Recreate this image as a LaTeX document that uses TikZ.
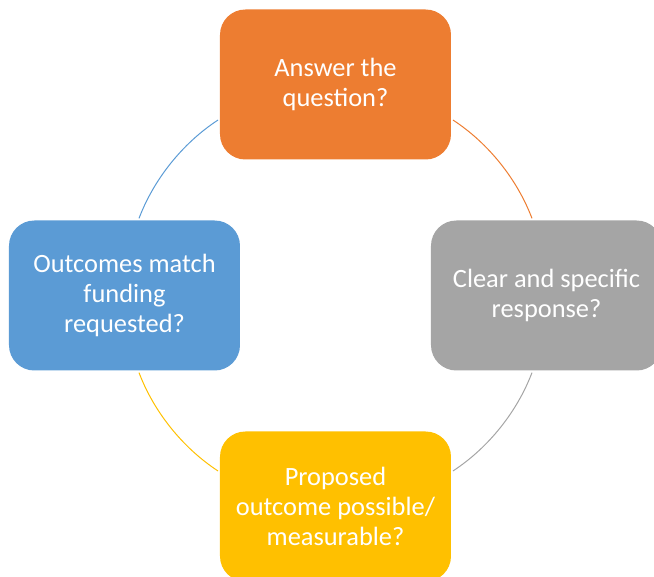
\documentclass[tikz,border=0pt]{standalone}
\usepackage{fontspec}
\setmainfont{Carlito}
\usepackage{tikz}
\usetikzlibrary{positioning}
\definecolor{offOrange}{HTML}{ED7D31}
\definecolor{offGray}{HTML}{A5A5A5}
\definecolor{offYellow}{HTML}{FFC000}
\definecolor{offBlue}{HTML}{5B9BD5}
\tikzset{
    objRoundBox/.style={rectangle, rounded corners=19pt, minimum width=173.25pt, minimum height=112.5pt, text centered, align=center, text=white, font=\fontsize{19.8}{22.5}\selectfont},
    arcLine/.style={line width=0.75pt, looseness=0.87, shorten >=1.5pt, shorten <=1.5pt}
}

\begin{document}
\begin{tikzpicture}[x=0.75pt, y=0.75pt, node distance=158.25pt]
    \useasboundingbox (-335.5,-281.5) rectangle (318.5,295.5);

    \coordinate (000) at (0,0);
    \node (001) [objRoundBox, fill=offOrange, above of=000] {Answer the\\question?};
    \node (002) [objRoundBox, fill=offGray, right of=000] {Clear and specific\\response?};
    \node (003) [objRoundBox, fill=offYellow, below of=000] {Proposed\\outcome possible/\\measurable?};
    \node (004) [objRoundBox, fill=offBlue, left of=000] {Outcomes match\\funding\\requested?};

    \draw [arcLine, offOrange] ([yshift=-25.8pt]001.east) to[out=-33.2, in=110.8] ([xshift=-10.35pt]002.north);
    \draw [arcLine, offGray] ([xshift=-10.35pt]002.south) to[out=-110.8, in=33.2] ([yshift=25.8pt]003.east);
    \draw [arcLine, offYellow] ([yshift=25.8pt]003.west) to[out=146.8, in=-69.2] ([xshift=10.35pt]004.south);
    \draw [arcLine, offBlue] ([xshift=10.35pt]004.north) to[out=69.2, in=-146.8] ([yshift=-25.8pt]001.west);

\end{tikzpicture}
\end{document}
